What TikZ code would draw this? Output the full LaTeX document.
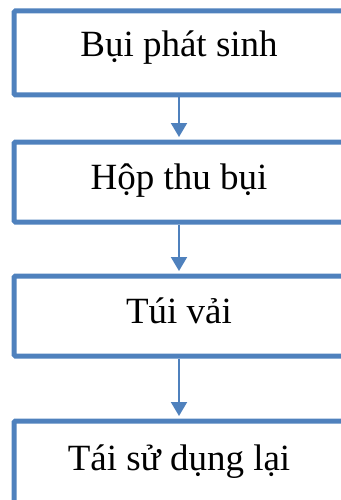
\documentclass[tikz,border=0pt]{standalone}
\usepackage{fontspec}
\setmainfont{Liberation Serif}
\usetikzlibrary{arrows.meta,positioning}
\definecolor{boxblue}{RGB}{79,129,189}

\begin{document}
\begin{tikzpicture}[x=1pt,y=-1pt,
    flow_box/.style={draw=boxblue,line width=5pt,rectangle,rounded corners=1.5pt,
      minimum width=330pt,minimum height=80pt,inner sep=0pt,
      text height=25pt,text depth=11pt,font=\fontsize{37}{42}\selectfont},
    flow_arrow/.style={draw=boxblue,line width=2pt,shorten >=2.5pt,
      -{Triangle[width=16pt,length=14pt]}}]

  \useasboundingbox (0,0) rectangle (340,500);

  \node [flow_box,minimum height=84pt,text depth=17pt] at(179,53) (bui_phat) {Bụi phát sinh};
  \node [flow_box] at(179,182) (hop_thu) {Hộp thu bụi};
  \node [flow_box] at(179,316) (tui_vai) {Túi vải};
  \node [flow_box,minimum height=84pt] at(179,463) (tai_su_dung) {Tái sử dụng lại};

  % dust path downwards
  \draw [flow_arrow] (bui_phat.south) -- (hop_thu.north);
  \draw [flow_arrow] (hop_thu.south) -- (tui_vai.north);
  \draw [flow_arrow] (tui_vai.south) -- (tai_su_dung.north);

\end{tikzpicture}
\end{document}
